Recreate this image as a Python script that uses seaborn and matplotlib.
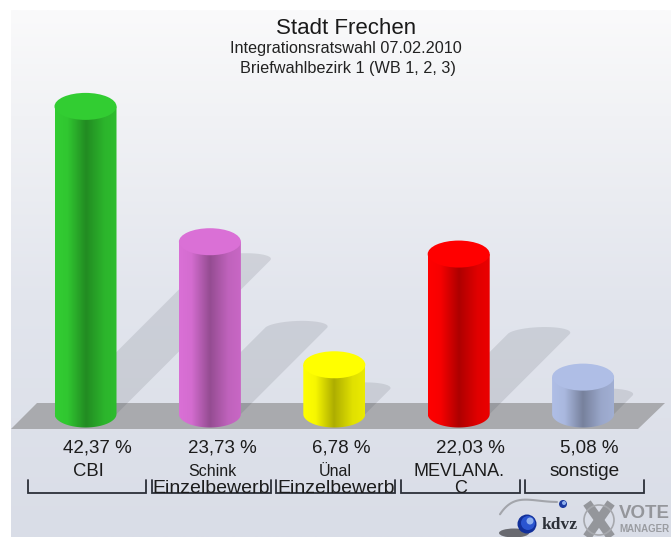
import numpy as np
import seaborn as sns
import matplotlib.pyplot as plt
from matplotlib.colors import LinearSegmentedColormap, to_rgb
from matplotlib.patches import Polygon, Ellipse, Circle

# Values
parties = ["CBI", "Schink", "Ünal", "MEVLANA.", "sonstige"]
second_line = ["", "Einzelbewerb", "Einzelbewerb", "C", ""]
values = [42.37, 23.73, 6.78, 22.03, 5.08]
value_labels = ["42,37 %", "23,73 %", "6,78 %", "22,03 %", "5,08 %"]
colors = ["#32CD32", "#DA70D6", "#FFFF00", "#FF0000", "#AFBEE6"]
name_sizes = [13.3, 11.5, 11.5, 13, 13.7]

W, H = 671, 537
PX_X = 124.4   # pixels per category
PX_Y = 7.26    # pixels per percent
BASE_PX = 414
BAR_W = 62 / PX_X
ELL_H = 27 / PX_Y

sns.set_theme(style="white")
plt.rcParams["font.family"] = ["Liberation Sans", "DejaVu Sans"]

fig = plt.figure(figsize=(W / 100, H / 100), dpi=100, facecolor="white")

# Backdrop axes in pixel coordinates
bg = fig.add_axes([0, 0, 1, 1])
bg.set_xlim(0, W)
bg.set_ylim(H, 0)
bg.axis("off")
bg_cmap = LinearSegmentedColormap.from_list(
    "bg", [(0, "#fafafb"), (0.2, "#f1f2f5"), (0.55, "#e2e5ed"), (1, "#d9dde7")]
)
bg.imshow(np.linspace(0, 1, 256).reshape(-1, 1), cmap=bg_cmap, aspect="auto",
          extent=(11, W, H, 10), zorder=0)
bg.set_xlim(0, W)
bg.set_ylim(H, 0)
bg.add_patch(Polygon([(11, 429), (638, 429), (665, 403), (37, 403)],
                     facecolor="#a9aaae", edgecolor="none", zorder=1))

# Title block
bg.text(346, 28, "Stadt Frechen", ha="center", va="center", fontsize=16, color="#1a1a1a")
bg.text(345.5, 49, "Integrationsratswahl 07.02.2010", ha="center", va="center",
        fontsize=11.7, color="#222222")
bg.text(348, 69, "Briefwahlbezirk 1 (WB 1, 2, 3)", ha="center", va="center",
        fontsize=11.7, color="#222222")

# Logo
t = np.linspace(0, 1, 40)
bg.plot(557 - 57 * t ** 0.6, 502 - 4 * np.sin(t * 2.4) + 15 * t ** 3, color="#a3a5ab",
        lw=1.5, zorder=2)
bg.add_patch(Ellipse((514, 533), 30, 9, facecolor="#3a3a3e", edgecolor="none", alpha=0.7, zorder=2))
for (cx, cy, r, col) in [(527, 524, 9.5, "#12309a"), (528, 523, 7, "#2a55d0"), (530, 521, 3.5, "#8fb0ee"),
                         (563, 504, 4, "#1c3aa0"), (564, 503, 2, "#8fb0ee")]:
    bg.add_patch(Circle((cx, cy), r, facecolor=col, edgecolor="none", zorder=3))
bg.text(560, 525, "kdvz", ha="center", va="center", fontsize=12.5, fontweight="bold",
        family="Liberation Serif", color="#2c3038", zorder=3)
bg.plot([587, 611], [503, 537], color="#94969b", lw=6.5, solid_capstyle="butt", zorder=2)
bg.plot([611, 587], [503, 537], color="#94969b", lw=6.5, solid_capstyle="butt", zorder=2)
bg.add_patch(Circle((599, 520), 15, facecolor="none", edgecolor="#a6a8ad", lw=1.2, zorder=2))
bg.text(619, 514, "VOTE", ha="left", va="center", fontsize=13.5, fontweight="bold", color="#94969b",
        zorder=2)
bg.text(619, 529, "MANAGER", ha="left", va="center", fontsize=7, fontweight="bold", color="#9a9ca1",
        zorder=2)

# Chart axes on top, same size as the figure
ax = fig.add_axes([0, 0, 1, 1])
ax.patch.set_alpha(0)

sns.barplot(x=parties, y=values, hue=parties, palette=colors, order=parties, hue_order=parties,
            width=BAR_W, dodge=False, legend=False, saturation=1, linewidth=0, ax=ax)

shade_x = np.array([0, 0.2, 0.5, 0.8, 1])
shade_y = np.array([1, 0.97, 0.68, 0.88, 0.92])
shade = np.interp(np.linspace(0, 1, 128), shade_x, shade_y)

theta = np.linspace(0, np.pi, 40)
bars = sorted([p for p in ax.patches if p.get_height() > 0], key=lambda p: p.get_x())

for bar, color in zip(bars, colors):
    x0 = bar.get_x()
    w = bar.get_width()
    x1 = x0 + w
    xc = x0 + w / 2
    v = bar.get_height()
    bar.set_visible(False)

    # cast shadow
    dx = 0.5 * v * PX_Y / PX_X
    dy = 0.5 * v
    arc_x = xc + dx + w / 2 * np.cos(theta) + 0.05 * np.sin(theta)
    arc_y = dy + 7 / PX_Y * np.sin(theta)
    pts = [(x0, 0), (x1, 0)] + list(zip(arc_x, arc_y))
    ax.add_patch(Polygon(pts, facecolor="#20242f", edgecolor="none", alpha=0.11, zorder=0.5))

    # cylinder side with a horizontal shading
    side = np.array(to_rgb(color))[None, None, :] * shade[None, :, None]
    low_x = xc + w / 2 * np.cos(theta + np.pi)
    low_y = ELL_H / 2 * np.sin(theta + np.pi)
    outline = [(x0, v)] + list(zip(low_x, low_y)) + [(x1, v)]
    clip = Polygon(outline, transform=ax.transData, facecolor="none", edgecolor="none")
    ax.add_patch(clip)
    im = ax.imshow(side, extent=(x0, x1, -ELL_H, v), aspect="auto", interpolation="bilinear", zorder=2)
    im.set_clip_path(clip)

    # cylinder top
    ax.add_patch(Ellipse((xc, v), w, ELL_H, facecolor=color, edgecolor="none", zorder=3))

# Labels and brackets below the floor
for i, (name, second, label, size) in enumerate(zip(parties, second_line, value_labels, name_sizes)):
    ax.text(i + [12, 12, 6.5, 12, 6][i] / PX_X, (BASE_PX - 448) / PX_Y, label,
            ha="center", va="center", fontsize=13.5, color="#1c1c1c")
    ax.text(i + [2.5, 2, 1, 0, 1][i] / PX_X, (BASE_PX - 471) / PX_Y, name,
            ha="center", va="center", fontsize=size, color="#1c1c1c")
    if second:
        ax.text(i + 1.5 / PX_X, (BASE_PX - 488.5) / PX_Y, second, ha="center", va="center",
                fontsize=14 if len(second) > 1 else 13, color="#1c1c1c")
    ax.plot([i - 0.465, i - 0.465, i + 0.49, i + 0.49],
            np.array([480, 493.5, 493.5, 480]) * -1 / PX_Y + BASE_PX / PX_Y,
            color="#2b2f38", lw=1.3, solid_joinstyle="miter")

ax.set_xlim(-85.5 / PX_X, (W - 85.5) / PX_X)
ax.set_ylim((BASE_PX - H) / PX_Y, BASE_PX / PX_Y)
ax.axis("off")

fig.savefig("out.png", dpi=100, facecolor="white")
